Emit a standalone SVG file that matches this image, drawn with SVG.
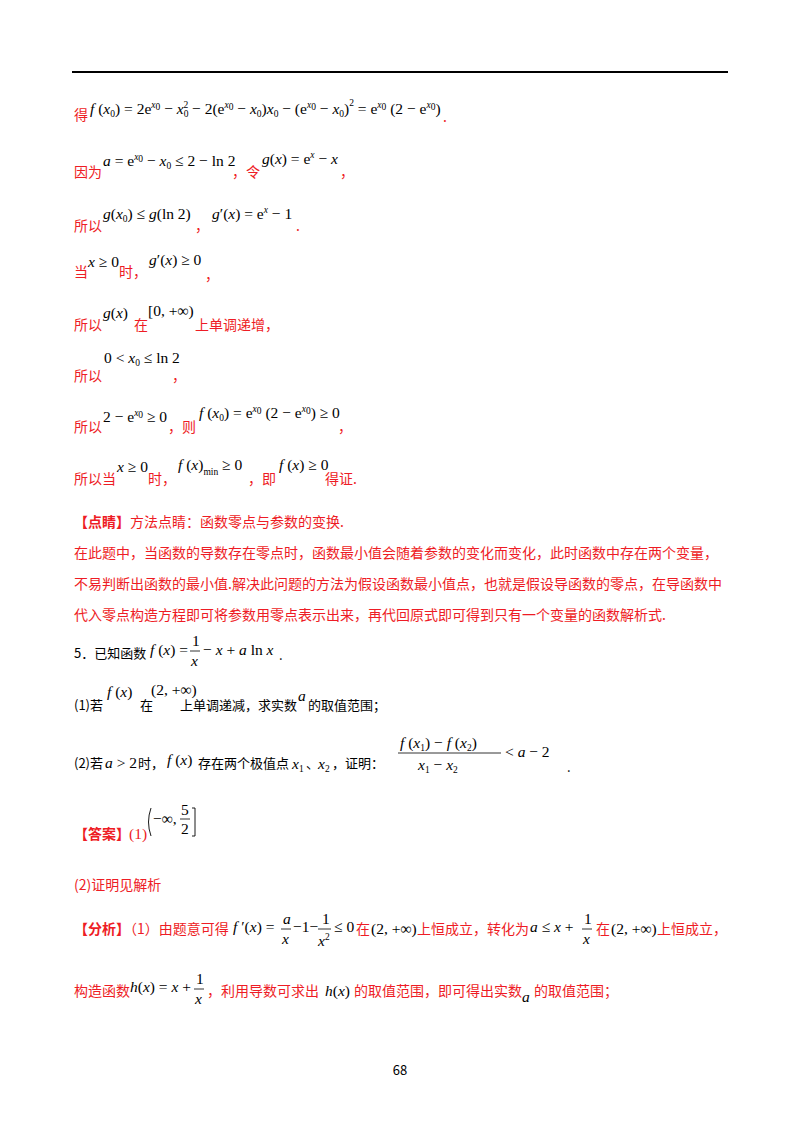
<svg xmlns="http://www.w3.org/2000/svg" width="800" height="1132" viewBox="0 0 800 1132">
<style>
.r{fill:#ee1c25;font-family:"Noto Sans CJK SC",sans-serif;font-size:14px}
.k{fill:#000;font-family:"Noto Sans CJK SC",sans-serif;font-size:13px}
.m{fill:#000;font-family:"Liberation Serif",serif;font-size:15.5px}
.i{font-style:italic}
.s{font-size:9.5px}
.b{font-weight:bold}
</style>
<rect width="800" height="1132" fill="#fff"/>
<line x1="72" y1="72" x2="728" y2="72" stroke="#000" stroke-width="2"/>
<g id="l1"><text x="74" y="120" class="r">得</text>
<text x="90" y="114" class="m" font-size="14.5"><tspan class="i">f</tspan> (<tspan class="i">x</tspan><tspan class="s" dy="3">0</tspan><tspan dy="-3">) = 2e</tspan><tspan class="s i" dy="-6">x</tspan><tspan class="s" dy="2">0</tspan><tspan dy="4"> − </tspan><tspan class="i">x</tspan><tspan class="s" dy="3">0</tspan><tspan class="s" dx="-5" dy="-9">2</tspan><tspan dy="6"> − 2(e</tspan><tspan class="s i" dy="-6">x</tspan><tspan class="s" dy="2">0</tspan><tspan dy="4"> − </tspan><tspan class="i">x</tspan><tspan class="s" dy="3">0</tspan><tspan dy="-3">)</tspan><tspan class="i">x</tspan><tspan class="s" dy="3">0</tspan><tspan dy="-3"> − (e</tspan><tspan class="s i" dy="-6">x</tspan><tspan class="s" dy="2">0</tspan><tspan dy="4"> − </tspan><tspan class="i">x</tspan><tspan class="s" dy="3">0</tspan><tspan dy="-3">)</tspan><tspan class="s" dy="-8">2</tspan><tspan dy="8"> = e</tspan><tspan class="s i" dy="-6">x</tspan><tspan class="s" dy="2">0</tspan><tspan dy="4"> (2 − e</tspan><tspan class="s i" dy="-6">x</tspan><tspan class="s" dy="2">0</tspan><tspan dy="4">)</tspan></text>
<text x="443" y="122" class="r">.</text></g>
<g id="l2"><text x="74" y="177" class="r">因为</text>
<text x="103" y="166" class="m"><tspan class="i">a</tspan> = e<tspan class="s i" dy="-6">x</tspan><tspan class="s" dy="2">0</tspan><tspan dy="4"> − </tspan><tspan class="i">x</tspan><tspan class="s" dy="3">0</tspan><tspan dy="-3"> ≤ 2 − ln 2</tspan></text>
<text x="232" y="177" class="r">，令</text>
<text x="262" y="164" class="m"><tspan class="i">g</tspan>(<tspan class="i">x</tspan>) = e<tspan class="s i" dy="-6">x</tspan><tspan dy="6"> − </tspan><tspan class="i">x</tspan></text>
<text x="340" y="177" class="r">，</text></g>
<g id="l3"><text x="74" y="231" class="r">所以</text>
<text x="103" y="219" class="m"><tspan class="i">g</tspan>(<tspan class="i">x</tspan><tspan class="s" dy="3">0</tspan><tspan dy="-3">) ≤ </tspan><tspan class="i">g</tspan>(ln 2)</text>
<text x="195" y="231" class="r">，</text>
<text x="212" y="219" class="m"><tspan class="i">g</tspan>′(<tspan class="i">x</tspan>) = e<tspan class="s i" dy="-6">x</tspan><tspan dy="6"> − 1</tspan></text>
<text x="296" y="231" class="r">.</text></g>
<g id="l4"><text x="74" y="277" class="r">当</text>
<text x="88" y="267" class="m"><tspan class="i">x</tspan> ≥ 0</text>
<text x="119" y="277" class="r">时，</text>
<text x="149" y="265" class="m"><tspan class="i">g</tspan>′(<tspan class="i">x</tspan>) ≥ 0</text>
<text x="205" y="280" class="r">，</text></g>
<g id="l5"><text x="74" y="330" class="r">所以</text>
<text x="103" y="318" class="m"><tspan class="i">g</tspan>(<tspan class="i">x</tspan>)</text>
<text x="134" y="330" class="r">在</text>
<text x="148" y="316" class="m">[0, +∞)</text>
<text x="195" y="330" class="r">上单调递增，</text></g>
<g id="l6"><text x="74" y="381" class="r">所以</text>
<text x="104" y="363" class="m">0 &lt; <tspan class="i">x</tspan><tspan class="s" dy="3">0</tspan><tspan dy="-3"> ≤ ln 2</tspan></text>
<text x="172" y="381" class="r">，</text></g>
<g id="l7"><text x="74" y="432" class="r">所以</text>
<text x="103" y="422" class="m">2 − e<tspan class="s i" dy="-6">x</tspan><tspan class="s" dy="2">0</tspan><tspan dy="4"> ≥ 0</tspan></text>
<text x="168" y="432" class="r">，则</text>
<text x="199" y="418" class="m"><tspan class="i">f</tspan> (<tspan class="i">x</tspan><tspan class="s" dy="3">0</tspan><tspan dy="-3">) = e</tspan><tspan class="s i" dy="-6">x</tspan><tspan class="s" dy="2">0</tspan><tspan dy="4"> (2 − e</tspan><tspan class="s i" dy="-6">x</tspan><tspan class="s" dy="2">0</tspan><tspan dy="4">) ≥ 0</tspan></text>
<text x="338" y="432" class="r">，</text></g>
<g id="l8"><text x="74" y="484" class="r">所以当</text>
<text x="117" y="472" class="m"><tspan class="i">x</tspan> ≥ 0</text>
<text x="148" y="484" class="r">时，</text>
<text x="178" y="470" class="m"><tspan class="i">f</tspan> (<tspan class="i">x</tspan>)<tspan class="s" dy="5">min</tspan><tspan dy="-5"> ≥ 0</tspan></text>
<text x="248" y="484" class="r">，即</text>
<text x="279" y="470" class="m"><tspan class="i">f</tspan> (<tspan class="i">x</tspan>) ≥ 0</text>
<text x="325" y="484" class="r">得证.</text></g>
<g id="l9"><text x="74" y="527" class="r"><tspan class="b">【点睛】</tspan>方法点睛：函数零点与参数的变换.</text>
<text x="74" y="558" class="r">在此题中，当函数的导数存在零点时，函数最小值会随着参数的变化而变化，此时函数中存在两个变量，</text>
<text x="74" y="589" class="r">不易判断出函数的最小值.解决此问题的方法为假设函数最小值点，也就是假设导函数的零点，在导函数中</text>
<text x="74" y="620" class="r">代入零点构造方程即可将参数用零点表示出来，再代回原式即可得到只有一个变量的函数解析式.</text></g>
<g id="q5"><text x="74" y="658" class="k">5．已知函数</text>
<text x="150" y="655" class="m"><tspan class="i">f</tspan> (<tspan class="i">x</tspan>) =</text>
<text x="192" y="646" class="m">1</text><line x1="190" y1="651" x2="200" y2="651" stroke="#000" stroke-width="0.8"/><text x="191" y="666" class="m i">x</text>
<text x="203" y="655" class="m">− <tspan class="i">x</tspan> + <tspan class="i">a</tspan> ln <tspan class="i">x</tspan></text>
<text x="279" y="660" class="k">.</text></g>
<g id="q1"><text x="74" y="710" class="k">(1)若</text>
<text x="107" y="697" class="m"><tspan class="i">f</tspan> (<tspan class="i">x</tspan>)</text>
<text x="140" y="710" class="k">在</text>
<text x="151" y="695" class="m">(2, +∞)</text>
<text x="180" y="710" class="k">上单调递减，求实数</text>
<text x="298" y="701" class="m i">a</text>
<text x="308" y="710" class="k">的取值范围；</text></g>
<g id="q2"><text x="74" y="768" class="k">(2)若</text>
<text x="105" y="768" class="m"><tspan class="i">a</tspan> &gt; 2</text>
<text x="138" y="768" class="k">时，</text>
<text x="167" y="765" class="m"><tspan class="i">f</tspan> (<tspan class="i">x</tspan>)</text>
<text x="198" y="768" class="k">存在两个极值点</text>
<text x="292" y="769" class="m i" font-size="18">x<tspan class="s" font-style="normal" dy="3">1</tspan></text>
<text x="306" y="768" class="k">、</text>
<text x="318" y="769" class="m i" font-size="18">x<tspan class="s" font-style="normal" dy="3">2</tspan></text>
<text x="332" y="768" class="k">，证明：</text>
<text x="400" y="748" class="m"><tspan class="i">f</tspan> (<tspan class="i">x</tspan><tspan class="s" dy="3">1</tspan><tspan dy="-3">) − </tspan><tspan class="i">f</tspan> (<tspan class="i">x</tspan><tspan class="s" dy="3">2</tspan><tspan dy="-3">)</tspan></text>
<line x1="398" y1="753" x2="501" y2="753" stroke="#000" stroke-width="0.8"/>
<text x="418" y="770" class="m"><tspan class="i">x</tspan><tspan class="s" dy="3">1</tspan><tspan dy="-3"> − </tspan><tspan class="i">x</tspan><tspan class="s" dy="3">2</tspan></text>
<text x="505" y="757" class="m">&lt; <tspan class="i">a</tspan> − 2</text>
<text x="567" y="772" class="k">.</text></g>
<g id="ans"><text x="74" y="839" class="r"><tspan class="b">【答案】</tspan></text>
<text x="129" y="839" class="m" style="fill:#ee1c25">(1)</text>
<path d="M151,808 Q146,822 151,836" fill="none" stroke="#000" stroke-width="0.9"/>
<text x="153" y="824" class="m">−∞,</text>
<text x="181" y="815" class="m">5</text><line x1="180" y1="819" x2="190" y2="819" stroke="#000" stroke-width="0.8"/><text x="181" y="834" class="m">2</text>
<path d="M192,808 H195 V836 H192" fill="none" stroke="#000" stroke-width="0.9"/>
<text x="74" y="890" class="r" font-family="Liberation Serif">(2)<tspan font-family="Noto Sans CJK SC">证明见解析</tspan></text></g>
<g id="ana"><text x="74" y="934" class="r"><tspan class="b">【分析】</tspan>（1）由题意可得</text>
<text x="233" y="932" class="m"><tspan class="i">f</tspan> ′(<tspan class="i">x</tspan>) =</text>
<text x="283" y="924" class="m i">a</text><line x1="281" y1="929" x2="291" y2="929" stroke="#000" stroke-width="0.8"/><text x="282" y="944" class="m i">x</text>
<text x="293" y="932" class="m">−1−</text>
<text x="322" y="924" class="m">1</text><line x1="318" y1="929" x2="331" y2="929" stroke="#000" stroke-width="0.8"/><text x="318" y="946" class="m"><tspan class="i">x</tspan><tspan class="s" dy="-6">2</tspan></text>
<text x="334" y="932" class="m">≤ 0</text>
<text x="356" y="934" class="r">在</text>
<text x="371" y="934" class="m">(2, +∞)</text>
<text x="417" y="934" class="r">上恒成立，转化为</text>
<text x="530" y="932" class="m"><tspan class="i">a</tspan> ≤ <tspan class="i">x</tspan> +</text>
<text x="584" y="924" class="m">1</text><line x1="582" y1="929" x2="592" y2="929" stroke="#000" stroke-width="0.8"/><text x="583" y="944" class="m i">x</text>
<text x="596" y="934" class="r">在</text>
<text x="611" y="934" class="m">(2, +∞)</text>
<text x="657" y="934" class="r">上恒成立，</text>
<text x="74" y="996" class="r">构造函数</text>
<text x="130" y="992" class="m"><tspan class="i">h</tspan>(<tspan class="i">x</tspan>) = <tspan class="i">x</tspan> +</text>
<text x="196" y="984" class="m">1</text><line x1="194" y1="989" x2="204" y2="989" stroke="#000" stroke-width="0.8"/><text x="195" y="1004" class="m i">x</text>
<text x="207" y="996" class="r">，利用导数可求出</text>
<text x="325" y="996" class="m"><tspan class="i">h</tspan>(<tspan class="i">x</tspan>)</text>
<text x="354" y="996" class="r">的取值范围，即可得出实数</text>
<text x="522" y="1002" class="m i">a</text>
<text x="534" y="996" class="r">的取值范围；</text></g>
<text x="400" y="1075" class="k" font-size="11" text-anchor="middle">68</text>
</svg>
